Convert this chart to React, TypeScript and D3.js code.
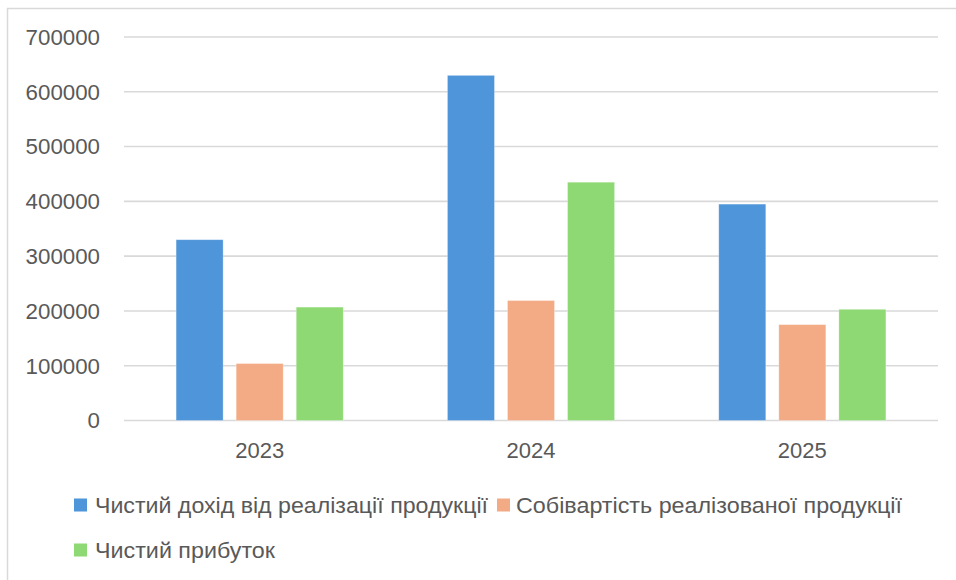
import React from "react";
import * as d3 from "d3";

const years = ["2023", "2024", "2025"];
const seriesNames = [
  "Чистий дохід від реалізації продукції",
  "Собівартість реалізованої продукції",
  "Чистий прибуток",
];
const revenue = [330000, 630000, 395000];
const cost = [104000, 219000, 175000];
const profit = [207000, 435000, 203000];
const yTicks = [0, 100000, 200000, 300000, 400000, 500000, 600000, 700000];
const colors = ["#4f95d9", "#f2ab85", "#8ed973"];

const W = 956;
const H = 580;
const FONT = "'Liberation Sans', Arial, sans-serif";
const TEXT = "#595959";

export default function App() {
  const values = [revenue, cost, profit];
  const y = d3.scaleLinear().domain([0, 700000]).range([420.5, 37]);
  const x0 = d3
    .scaleBand<string>()
    .domain(years)
    .range([124, 938])
    .paddingInner(0.384)
    .paddingOuter(0.192);
  const x1 = d3
    .scaleBand<number>()
    .domain([0, 1, 2])
    .range([0, x0.bandwidth()])
    .paddingInner(0.2167)
    .paddingOuter(0);

  const legend = [
    { i: 0, sx: 74, tx: 95, y: 505, w: 393 },
    { i: 1, sx: 497, tx: 516, y: 505, w: 386 },
    { i: 2, sx: 74, tx: 95, y: 550, w: 180 },
  ];

  return (
    <svg
      width={W}
      height={H}
      style={{ position: "absolute", left: 0, top: 0, background: "#fff" }}
      fontFamily={FONT}
    >
      <rect x={7.5} y={8.5} width={W + 10} height={H + 10} fill="#fff" stroke="#d9d9d9" strokeWidth={1.5} />
      {yTicks.map((t) => (
        <g key={t}>
          <line x1={124} x2={938} y1={y(t)} y2={y(t)} stroke="#d9d9d9" strokeWidth={1.6} />
          <text x={100} y={y(t)} dy="0.35em" textAnchor="end" fontSize={22.3} fill={TEXT}>
            {t}
          </text>
        </g>
      ))}
      {years.map((yr, ci) => (
        <g key={yr} transform={`translate(${x0(yr)},0)`}>
          {values.map((s, si) => (
            <rect
              key={si}
              x={x1(si)}
              y={y(s[ci])}
              width={x1.bandwidth()}
              height={y(0) - y(s[ci])}
              fill={colors[si]}
              stroke="#ffffff"
              strokeOpacity={0.4}
              strokeWidth={0.75}
            />
          ))}
          <text
            x={x0.bandwidth() / 2}
            y={458}
            textAnchor="middle"
            fontSize={22}
            fill={TEXT}
          >
            {yr}
          </text>
        </g>
      ))}
      {legend.map((l) => (
        <g key={l.i}>
          <rect x={l.sx} y={l.y - 6.5} width={13} height={13} fill={colors[l.i]} />
          <text
            x={l.tx}
            y={l.y}
            dy="0.36em"
            fontSize={22}
            fill={TEXT}
            textLength={l.w}
            lengthAdjust="spacingAndGlyphs"
          >
            {seriesNames[l.i]}
          </text>
        </g>
      ))}
    </svg>
  );
}
